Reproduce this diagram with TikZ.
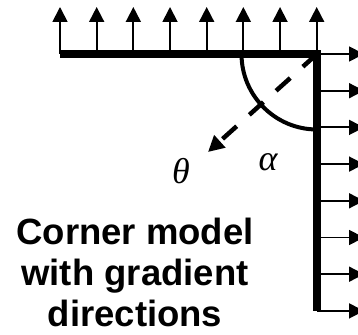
\documentclass[tikz,border=0pt]{standalone}
\usepackage{fontspec}
\newfontfamily\labelfont{Liberation Sans}
\newfontfamily\greekfont{Liberation Serif}
\usetikzlibrary{arrows.meta}
\tikzset{
  normal/.style={line width=1.8pt, -{Triangle[length=15pt,width=15pt]}},
  barline/.style={line width=7.5pt, line join=miter},
  dirarrow/.style={line width=4.5pt, dash pattern=on 19pt off 17pt, -{Triangle[length=16pt,width=16pt]}},
  anglearc/.style={line width=4pt},
  caption/.style={font=\labelfont\bfseries\fontsize{36.5}{41}\selectfont, inner sep=0pt, anchor=base},
  greek/.style={font=\greekfont\itshape\fontsize{36}{36}\selectfont, inner sep=0pt}
}
\begin{document}
\begin{tikzpicture}[x=1pt,y=1pt]
\useasboundingbox (0,0) rectangle (358,334);
\coordinate (left) at (60,280);
\coordinate (corner) at (317,280);
\coordinate (bottom) at (317,23);
% normals on the top edge
\foreach \k in {0,...,7} {
  \coordinate (t\k) at ({60+36.67*\k},280);
  \coordinate (tt\k) at ({60+36.67*\k},327);
  \draw[normal] (t\k) -- (tt\k);
}
% normals on the right edge
\foreach \k in {0,...,7} {
  \coordinate (r\k) at (317,{280-36.7*\k});
  \coordinate (rr\k) at (364,{280-36.7*\k});
  \draw[normal] (r\k) -- (rr\k);
}
% corner edges
\draw[barline] (left) -- (corner) -- (bottom);
% angle arc
\draw[anglearc] ([xshift=-75.5pt]corner) arc[start angle=180, end angle=270, radius=75.5pt];
% gradient direction
\coordinate (dirend) at (208,182);
\draw[dirarrow] (corner) -- (dirend);
\node[greek] (theta) at (181,163) {θ};
\node[greek] (alpha) at (268,172) {α};
\node[caption] (c1) at (135,89) {Corner model};
\node[caption] (c2) at (135,48) {with gradient};
\node[caption] (c3) at (135,7) {directions};
\end{tikzpicture}
\end{document}
